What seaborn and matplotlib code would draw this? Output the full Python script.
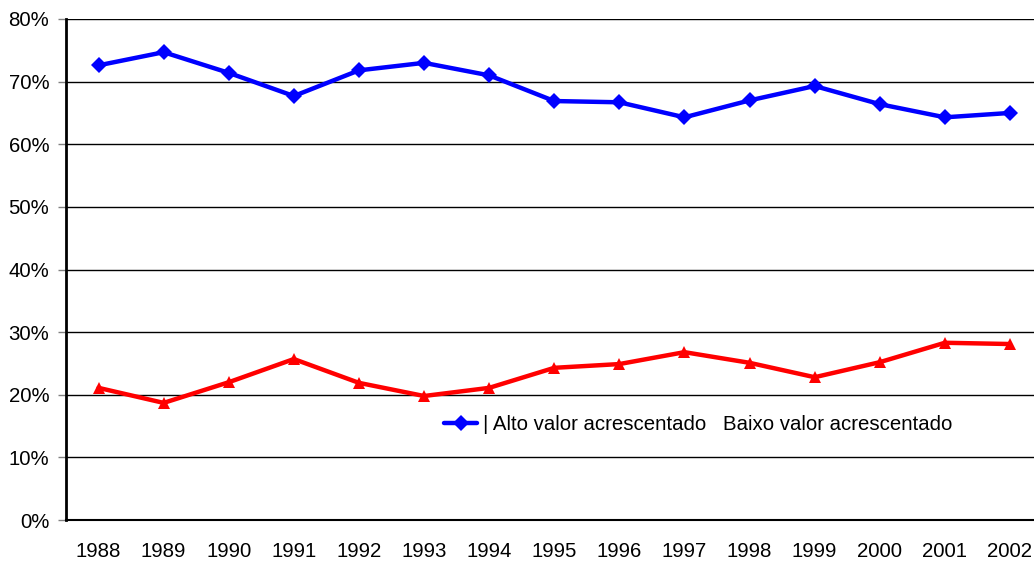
import numpy as np
import pandas as pd
import matplotlib
matplotlib.use("Agg")
import matplotlib.pyplot as plt
import seaborn as sns
from matplotlib.lines import Line2D
from matplotlib.ticker import FuncFormatter, FixedLocator

# data (percent)
years = [1988, 1989, 1990, 1991, 1992, 1993, 1994, 1995, 1996, 1997, 1998, 1999, 2000, 2001, 2002]
alto = [72.6, 74.7, 71.4, 67.7, 71.8, 73.0, 71.0, 66.9, 66.7, 64.3, 67.0, 69.3, 66.4, 64.3, 65.0]
baixo = [21.1, 18.7, 22.0, 25.7, 21.9, 19.8, 21.1, 24.3, 24.9, 26.8, 25.1, 22.8, 25.2, 28.3, 28.1]
series_names = ["Alto valor acrescentado", "Baixo valor acrescentado"]

df = pd.DataFrame({
    "pos": list(range(len(years))) * 2,
    "valor": alto + baixo,
    "serie": [series_names[0]] * len(years) + [series_names[1]] * len(years),
})

sns.set_style("white")
plt.rcParams["font.family"] = ["Liberation Sans", "DejaVu Sans"]
plt.rcParams["text.color"] = "black"
plt.rcParams["xtick.labelcolor"] = "black"
plt.rcParams["ytick.labelcolor"] = "black"
FS = 14.7

fig = plt.figure(figsize=(10.34, 5.61), dpi=100)
# plot area runs past the right edge of the image, like the reference
ax = fig.add_axes([66 / 1034, 41 / 561, 1 - 66 / 1034, 501 / 561])

sns.lineplot(data=df, x="pos", y="valor", hue="serie", style="serie",
             palette={series_names[0]: "#0000FF", series_names[1]: "#FF0000"},
             markers={series_names[0]: "D", series_names[1]: "^"},
             dashes=False, linewidth=3.2, markersize=8, markeredgewidth=0,
             legend=False, ax=ax)

ax.set_ylim(0, 80)
ax.set_xlim(-0.5, -0.5 + (1034 - 66) / 65.1)
ax.set_yticks(np.arange(0, 81, 10))
ax.yaxis.set_major_formatter(FuncFormatter(lambda v, p: f"{int(v)}%"))
ax.yaxis.grid(True, color="black", linewidth=1)
ax.xaxis.grid(False)

ax.set_xticks(range(len(years)))
ax.set_xticklabels([str(y) for y in years])
ax.xaxis.set_minor_locator(FixedLocator(np.arange(-0.5, len(years), 1)))
ax.tick_params(axis="x", which="major", length=0, pad=16, labelsize=FS, labelcolor="black")
ax.tick_params(axis="x", which="minor", length=6, width=1.2, color="#808080", direction="out")
ax.tick_params(axis="y", which="major", length=6, width=1, color="#808080", left=True,
               pad=6, labelsize=FS, labelcolor="black")

ax.set_xlabel("")
ax.set_ylabel("")
for side in ["top", "right"]:
    ax.spines[side].set_visible(False)
ax.spines["left"].set_color("black")
ax.spines["left"].set_linewidth(2)
ax.spines["bottom"].set_color("black")
ax.spines["bottom"].set_linewidth(1.5)

handles = [
    Line2D([], [], color="#0000FF", marker="D", linewidth=3.2, markersize=8, markeredgewidth=0),
    Line2D([], [], color="none"),
]
leg = ax.legend(handles, ["| Alto valor acrescentado", series_names[1]], ncol=2, frameon=False,
                loc="center", bbox_to_anchor=(0.653, 0.19), fontsize=FS,
                handlelength=1.6, handletextpad=0.3, columnspacing=-1.1)
for t in leg.get_texts():
    t.set_color("black")

fig.savefig("out.png", dpi=100)
